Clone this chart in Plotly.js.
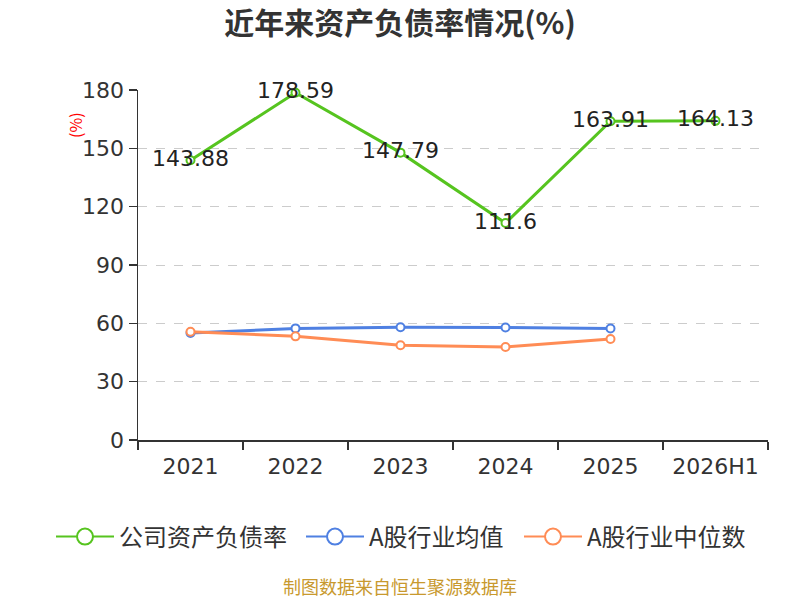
<!DOCTYPE html>
<html>
<head>
<meta charset="utf-8">
<script src="https://cdn.plot.ly/plotly-3.0.1.min.js"></script>
<style>html,body{margin:0;padding:0;background:#fff;}#chart{width:800px;height:600px;}</style>
</head>
<body>
<div id="chart"></div>
<script>
const categories = ["2021", "2022", "2023", "2024", "2025", "2026H1"];
const companyRatio = [143.88, 178.59, 147.79, 111.6, 163.91, 164.13];
const industryMean = [55.0, 57.4, 58.0, 57.9, 57.3, null];
const industryMedian = [55.7, 53.3, 48.7, 47.8, 51.9, null];
const seriesNames = ["公司资产负债率", "A股行业均值", "A股行业中位数"];
const yTicks = [0, 30, 60, 90, 120, 150, 180];

const FONT = '"Noto Sans CJK SC", "Noto Sans", sans-serif';
const NUMFONT = '"DejaVu Sans", "Noto Sans CJK SC", sans-serif';
const colors = ["#56c41f", "#4f80e2", "#ff8c55"];
const legendLeft = [57, 307, 525];
const legendIds = ['legend', 'legend2', 'legend3'];

function lineTrace(y, name, color, withText) {
  const t = {
    x: categories, y: y, name: name, type: 'scatter', mode: withText ? 'lines+markers+text' : 'lines+markers',
    line: {color: color, width: 3},
    marker: {symbol: 'circle', size: 8, color: '#ffffff', line: {color: color, width: 2}},
    showlegend: false, hoverinfo: 'skip', cliponaxis: false
  };
  if (withText) {
    t.text = y.map(v => String(v));
    t.textposition = 'middle center';
    t.textfont = {family: NUMFONT, size: 22, color: '#222222'};
  }
  return t;
}
function legendTrace(name, color, lg) {
  return {
    x: [null], y: [null], name: name, type: 'scatter', mode: 'lines+markers',
    line: {color: color, width: 2},
    marker: {symbol: 'circle', size: 16, color: '#ffffff', line: {color: color, width: 2}},
    showlegend: true, hoverinfo: 'skip', legend: lg
  };
}

const data = [
  lineTrace(companyRatio, seriesNames[0], colors[0], true),
  lineTrace(industryMean, seriesNames[1], colors[1], false),
  lineTrace(industryMedian, seriesNames[2], colors[2], false)
];
seriesNames.forEach((n, i) => data.push(legendTrace(n, colors[i], legendIds[i])));

const layout = {
  width: 800, height: 600,
  paper_bgcolor: '#ffffff', plot_bgcolor: '#ffffff',
  margin: {l: 138, r: 32, t: 90, b: 160},
  font: {family: FONT, color: '#333333'},
  title: {text: '<b>近年来资产负债率情况(%)</b>', font: {family: FONT, size: 30, color: '#333333'},
          x: 0.5, xref: 'container', xanchor: 'center', y: 1 - 23/600, yref: 'container', yanchor: 'middle'},
  xaxis: {
    type: 'category', range: [-0.5, 5.5], tickson: 'boundaries', ticks: 'outside', ticklen: 8, tickcolor: '#333333', tickwidth: 1.5,
    showline: true, linecolor: '#333333', linewidth: 1.5, showgrid: false, zeroline: false,
    ticklabelstandoff: 6,
    tickfont: {family: NUMFONT, size: 22, color: '#333333'}, fixedrange: true
  },
  yaxis: {
    range: [0, 180], tickvals: yTicks, ticktext: yTicks.map(String),
    ticks: 'outside', ticklen: 8, tickcolor: '#333333', tickwidth: 1.5,
    showline: true, linecolor: '#333333', linewidth: 1.5,
    showgrid: true, gridcolor: '#cccccc', gridwidth: 1, griddash: 'dash', zeroline: false,
    tickfont: {family: NUMFONT, size: 22, color: '#333333'}, fixedrange: true
  },
  annotations: [
    {text: '(%)', xref: 'paper', yref: 'paper', x: (75 - 138)/630, y: (440 - 125)/350,
     textangle: -90, showarrow: false, xanchor: 'center', yanchor: 'middle',
     font: {family: FONT, size: 16, color: '#ff0000'}},
    {text: '制图数据来自恒生聚源数据库', xref: 'paper', yref: 'paper', x: (400 - 138)/630, y: (440 - 586)/350,
     showarrow: false, xanchor: 'center', yanchor: 'middle',
     font: {family: FONT, size: 18, color: '#c8992e'}}
  ]
};
legendIds.forEach((id, i) => {
  layout[id] = {
    orientation: 'h', xref: 'container', yref: 'container', x: (legendLeft[i] - 6)/800, xanchor: 'left',
    y: 1 - 537/600, yanchor: 'middle', itemwidth: 58, itemsizing: 'trace',
    font: {family: FONT, size: 24, color: '#333333'}, bgcolor: 'rgba(0,0,0,0)'
  };
});

Plotly.newPlot('chart', data, layout, {displayModeBar: false, staticPlot: true});
</script>
</body>
</html>
